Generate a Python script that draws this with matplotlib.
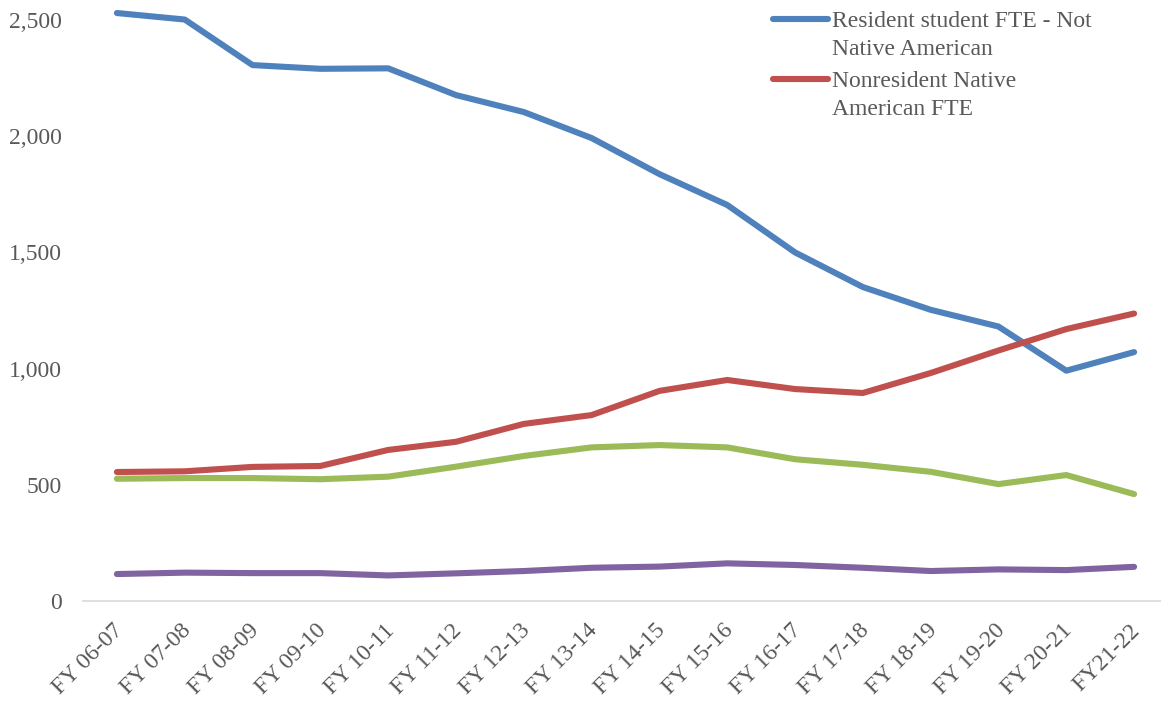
import matplotlib
matplotlib.use("Agg")
import matplotlib.pyplot as plt
from matplotlib.lines import Line2D
from matplotlib.ticker import FuncFormatter
from matplotlib.transforms import ScaledTranslation

# Fiscal years
years = ["FY 06-07", "FY 07-08", "FY 08-09", "FY 09-10", "FY 10-11", "FY 11-12",
         "FY 12-13", "FY 13-14", "FY 14-15", "FY 15-16", "FY 16-17", "FY 17-18",
         "FY 18-19", "FY 19-20", "FY 20-21", "FY21-22"]

# FTE series
resident_not_native = [2530, 2502, 2306, 2290, 2292, 2177, 2104, 1992, 1837, 1704,
                       1500, 1351, 1253, 1181, 991, 1071]
nonresident_native = [555, 558, 577, 581, 650, 685, 762, 800, 904, 951,
                      912, 895, 981, 1078, 1170, 1237]
resident_native = [526, 529, 529, 524, 535, 578, 624, 661, 671, 661,
                   610, 586, 556, 503, 542, 460]
nonresident_not_native = [116, 122, 120, 120, 110, 119, 129, 143, 148, 162,
                          155, 143, 129, 136, 133, 147]

series_colors = ["#4F81BD", "#C0504D", "#9BBB59", "#8064A2"]
legend_labels = ["Resident student FTE - Not\nNative American",
                 "Nonresident Native\nAmerican FTE"]

W, H = 1161, 702
fig = plt.figure(figsize=(W / 100, H / 100), dpi=100)
plt.rcParams["font.family"] = ["Liberation Serif", "DejaVu Serif"]

# plot area in pixel terms: left 83, right 1168 (extends past the canvas), y 20..601
left, right, top, bottom = 83, 1168, 20, 601
ax = fig.add_axes([left / W, 1 - bottom / H, (right - left) / W, (bottom - top) / H])

x = list(range(len(years)))
all_series = [resident_not_native, nonresident_native, resident_native, nonresident_not_native]
for vals, col in zip(all_series, series_colors):
    ax.plot(x, vals, color=col, lw=4.4, solid_capstyle="round",
            solid_joinstyle="round", clip_on=False)

ax.set_xlim(-0.5, len(years) - 0.5)
ax.set_ylim(0, 2500)
ax.set_yticks([0, 500, 1000, 1500, 2000, 2500])
ax.yaxis.set_major_formatter(FuncFormatter(lambda v, p: f"{int(v):,}"))
ax.set_xticks(x)
ax.set_xticklabels(years, rotation=45, ha="right", va="center", rotation_mode="anchor")

text_color = "#595959"
fs = 17
ax.tick_params(axis="y", length=0, pad=15, labelsize=fs, labelcolor=text_color)
ax.tick_params(axis="x", length=0, pad=19, labelsize=fs, labelcolor=text_color)
shift = ScaledTranslation(3 / 100, 0, fig.dpi_scale_trans)
for lbl in ax.get_xticklabels():
    lbl.set_transform(lbl.get_transform() + shift)

for s in ["left", "right", "top"]:
    ax.spines[s].set_visible(False)
ax.spines["bottom"].set_color("#D9D9D9")
ax.spines["bottom"].set_linewidth(1.2)

# legend, drawn entry by entry
entries = [(19, [27, 55]), (79, [87, 115])]
for (hy, baselines), col, lab in zip(entries, series_colors[:2], legend_labels):
    fig.add_artist(Line2D([773 / W, 828 / W], [1 - hy / H, 1 - hy / H], color=col,
                          lw=4.4, solid_capstyle="round"))
    for by, txt in zip(baselines, lab.split("\n")):
        fig.text(832 / W, 1 - by / H, txt, fontsize=fs, color=text_color,
                 ha="left", va="baseline")

fig.savefig("out.png", dpi=100)
